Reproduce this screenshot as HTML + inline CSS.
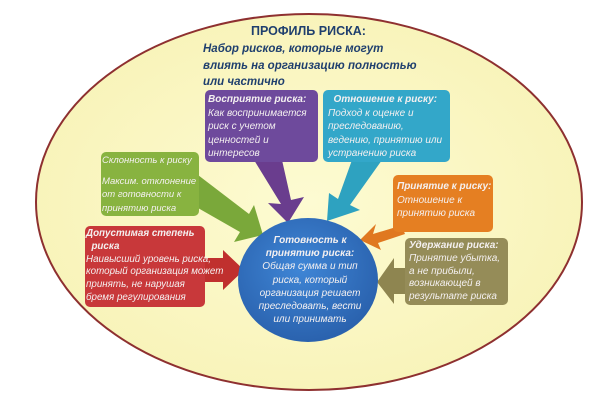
<!DOCTYPE html>
<html><head><meta charset="utf-8"><style>
html,body{margin:0;padding:0;background:#fff;}
body{width:604px;height:418px;position:relative;overflow:hidden;font-family:"Liberation Sans","DejaVu Sans",sans-serif;}
.t{position:absolute;font-style:italic;color:#f4f0f0;font-size:10px;line-height:13.5px;white-space:nowrap;}
.t b{font-weight:bold;}
</style></head><body>
<svg width="604" height="418" style="position:absolute;left:0;top:0">
<defs>
<radialGradient id="bg" cx="50%" cy="50%" r="55%"><stop offset="0" stop-color="#fdfbd2"/><stop offset="1" stop-color="#f8f3b8"/></radialGradient>
<radialGradient id="cg" cx="45%" cy="40%" r="60%"><stop offset="0" stop-color="#3f86d6"/><stop offset="1" stop-color="#2a62ae"/></radialGradient>
</defs>
<ellipse cx="309" cy="202" rx="273" ry="188" fill="url(#bg)" stroke="#8e3030" stroke-width="2"/>
<polygon points="254,160 282,160 291,200 304,197 288,223 268,203 281,204" fill="#6a3d8e"/>
<polygon points="352,160 382,160 350,205 360,210 327,221 329,193 338,199" fill="#2ea2c0"/>
<polygon points="198,175 198,208 240,232 234,242 263,235 254,205 249,214" fill="#7aa83a"/>
<polygon points="393,205 393,228 373,234 376,224 360,240 381,250 378,243 405,234" fill="#e07820"/>
<polygon points="204,258 223,258 223,250 244,270 223,290 223,282 204,282" fill="#c0302e"/>
<polygon points="406,268 394,268 394,258 377,282 394,304 394,294 406,294" fill="#8e8550"/>
<rect x="205" y="90" width="113" height="72" rx="5" fill="#6e4a9c"/>
<rect x="323" y="90" width="127" height="72" rx="5" fill="#33a7c9"/>
<rect x="101" y="152" width="98" height="64" rx="5" fill="#88b340"/>
<rect x="393" y="175" width="100" height="57" rx="5" fill="#e57f22"/>
<rect x="85" y="226" width="120" height="81" rx="5" fill="#c8383a"/>
<rect x="405" y="238" width="103" height="67" rx="5" fill="#958c58"/>
<ellipse cx="308" cy="280" rx="70" ry="62" fill="url(#cg)"/>
</svg>
<div style="position:absolute;left:251px;top:24px;font-size:12.5px;font-weight:bold;color:#1f3f6e;">ПРОФИЛЬ РИСКА:</div>
<div style="position:absolute;left:203px;top:41px;font-size:11.5px;line-height:16.5px;font-weight:bold;font-style:italic;color:#1f3f6e;white-space:nowrap">Набор рисков, которые могут<br>влиять на организацию полностью<br>или частично</div>
<div class="t" style="left:208px;top:93px"><b>Восприятие риска:</b><br>Как воспринимается<br>риск с учетом<br>ценностей и<br>интересов</div>
<div class="t" style="left:328px;top:93px"><b>&nbsp;&nbsp;Отношение к риску:</b><br>Подход к оценке и<br>преследованию,<br>ведению, принятию или<br>устранению риска</div>
<div class="t" style="left:102px;top:154px;font-size:9.5px">Склонность к риску<br><span style="display:block;height:7px"></span>Максим. отклонение<br>от готовности к<br>принятию риска</div>
<div class="t" style="left:397px;top:180px"><b>Принятие к риску:</b><br>Отношение к<br>принятию риска</div>
<div class="t" style="left:86px;top:228px;font-size:9.8px;line-height:12.8px"><b>Допустимая степень<br>&nbsp;&nbsp;риска</b><br>Наивысший уровень риска,<br>который организация может<br>принять, не нарушая<br>бремя регулирования</div>
<div class="t" style="left:409px;top:240px;line-height:12.8px"><b>Удержание риска:</b><br>Принятие убытка,<br>а не прибыли,<br>возникающей в<br>результате риска</div>
<div class="t" style="left:240px;top:234px;width:140px;text-align:center;line-height:13.2px"><b>Готовность к<br>принятию риска:</b><br>Общая сумма и тип<br>риска, который<br>организация решает<br>преследовать, вести<br>или принимать</div>
</body></html>
